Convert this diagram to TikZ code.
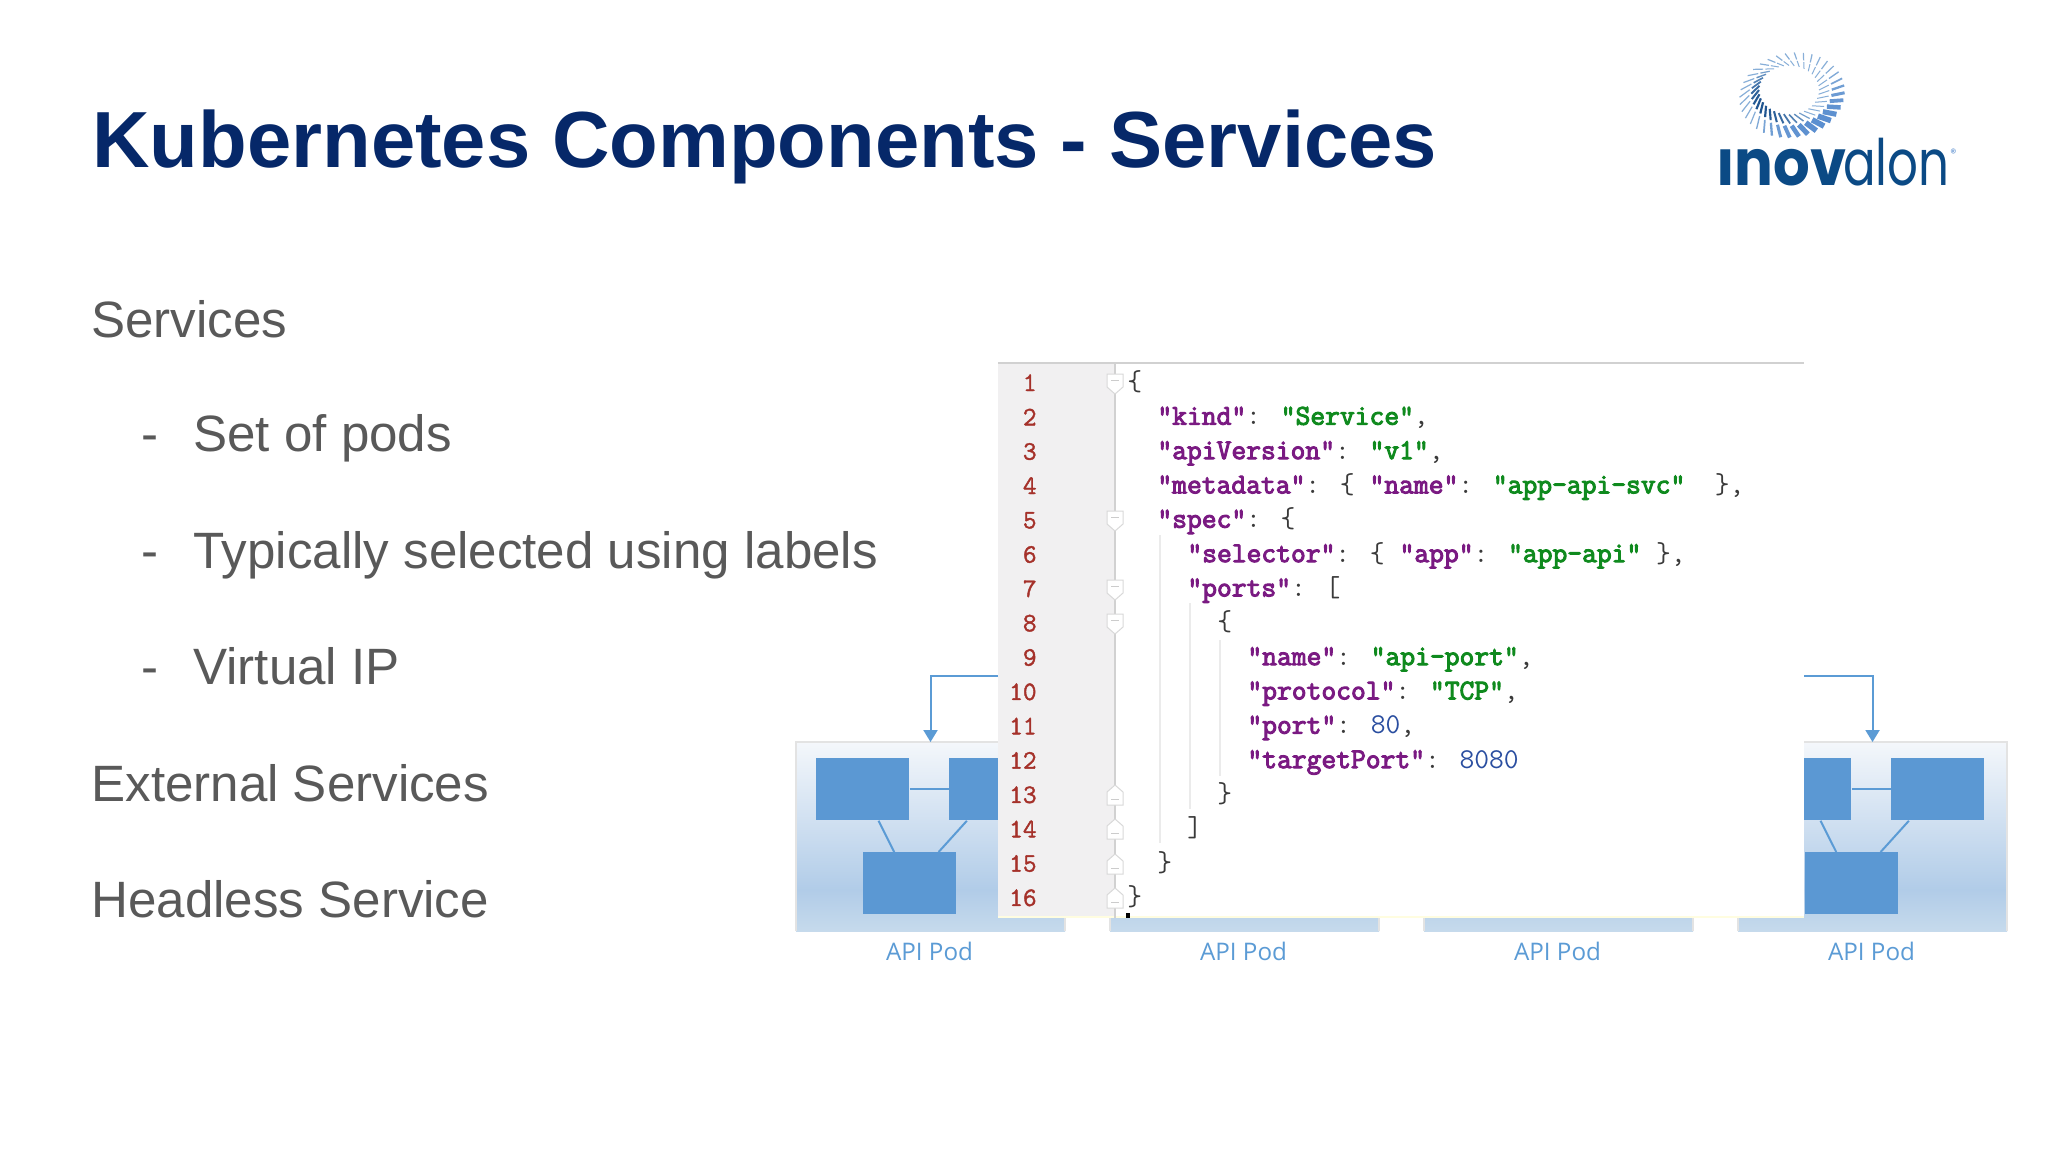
\documentclass[tikz,border=0pt]{standalone}
\usepackage{fontspec}
\usetikzlibrary{arrows.meta,calc}
\setmainfont{Liberation Sans}
\newfontfamily\podfont{Open Sans}
\newfontfamily\logofont{Poppins}
\newcommand{\codefont}{\ttfamily}
\definecolor{navy}{HTML}{062869}
\definecolor{bodygray}{HTML}{595959}
\definecolor{podblue}{HTML}{5B9BD5}
\definecolor{boxblue}{HTML}{5B98D3}
\definecolor{podtop}{HTML}{F4F7FB}
\definecolor{podmid}{HTML}{B1CCE8}
\definecolor{podbot}{HTML}{C6DAEC}
\definecolor{keyc}{HTML}{7A1A82}
\definecolor{strc}{HTML}{0F8A1E}
\definecolor{numc}{HTML}{2A4EA0}
\definecolor{punc}{HTML}{3A3A3A}
\definecolor{lnc}{HTML}{A5312A}
\definecolor{gutter}{HTML}{F1F0F1}
\definecolor{logoblue}{HTML}{0B4A85}
\definecolor{swirlmid}{HTML}{5B8FD0}
\definecolor{swirllight}{HTML}{88AFD8}
\definecolor{swirldark}{HTML}{1F5590}
\newcommand{\heavy}[2]{\special{pdf:code 2 Tr #1 w}#2\special{pdf:code 0 Tr 1 w}}
\newcommand{\kyc}[1]{\textcolor{keyc}{\heavy{0.5}{#1}}}
\newcommand{\strc}[1]{\textcolor{strc}{\heavy{0.5}{#1}}}
\newcommand{\numv}[1]{\textcolor{numc}{#1}}
\newcommand{\podbody}[2]{% x offset, name prefix
  \fill[top color=podtop,bottom color=podmid] (#1,742) rectangle (#1+269,890);
  \fill[top color=podmid,bottom color=podbot] (#1,890) rectangle (#1+269,931);
  \draw[podedge] (#1,931) -- (#1,742) -- (#1+269,742) -- (#1+269,931);
  \coordinate (#2top) at (#1+134.5,742);
  \node[podlabel] (#2label) at (#1+133.5,951) {API Pod};
}
\newcommand{\foldd}[1]{\draw[foldmark] (1107,#1-10) -- (1123,#1-10) -- (1123,#1+3) -- (1115,#1+10) -- (1107,#1+3) -- cycle;
  \draw[foldminus] (1111,#1-4) -- (1119,#1-4);}
\newcommand{\foldu}[1]{\draw[foldmark] (1107,#1+10) -- (1123,#1+10) -- (1123,#1-3) -- (1115,#1-10) -- (1107,#1-3) -- cycle;
  \draw[foldminus] (1111,#1+4) -- (1119,#1+4);}
\tikzset{
  x=0.5pt,y=-0.5pt,
  titletext/.style={anchor=base west,inner sep=0,text=navy,font=\fontsize{39.8}{44}\selectfont\bfseries},
  bodytext/.style={anchor=base west,inner sep=0,text=bodygray,font=\fontsize{25.55}{30}\selectfont},
  podlabel/.style={inner sep=0,text=podblue,font=\podfont\fontsize{12.1}{15}\selectfont},
  podedge/.style={draw=black!11,line width=0.9pt},
  podbox/.style={fill=boxblue,draw=none,inner sep=0,minimum width=46.5pt,minimum height=31pt,anchor=north west},
  podlink/.style={draw=podblue,line width=1pt},
  callarrow/.style={draw=podblue,line width=1pt,-{Triangle[length=6pt,width=7pt]}},
  codeline/.style={anchor=base west,inner sep=0,yshift=0.3pt,text=punc,font=\codefont\fontsize{14.37}{16}\selectfont},
  lineno/.style={anchor=base east,inner sep=0,text=lnc,font=\codefont\fontsize{13.3}{15}\selectfont},
  foldmark/.style={draw=black!15,fill=white,line width=0.5pt},
  foldminus/.style={draw=black!20,line width=0.5pt},
  guide/.style={draw=black!8,line width=0.6pt},
}
\begin{document}
\begin{tikzpicture}
\useasboundingbox (0,0) rectangle (2048,1152);
\fill[white] (0,0) rectangle (2048,1152);

% title and bullets
\node[titletext] (title) at (92,167) {Kubernetes Components - Services};
\node[bodytext] (b1) at (91,337) {Services};
\node[bodytext] (d2) at (141,451) {-};
\node[bodytext] (b2) at (193,451) {Set of pods};
\node[bodytext] (d3) at (141,568) {-};
\node[bodytext] (b3) at (193,568) {Typically selected using labels};
\node[bodytext] (d4) at (141,684) {-};
\node[bodytext] (b4) at (193,684) {Virtual IP};
\node[bodytext] (b5) at (91,801) {External Services};
\node[bodytext] (b6) at (91,917) {Headless Service};

% logo swirl
\foreach \t in {0,10,...,350}{
  \pgfmathsetmacro{\ox}{1792+53*cos(\t-8)*cos(-12)-42*sin(\t-8)*sin(-12)}
  \pgfmathsetmacro{\oy}{95+53*cos(\t-8)*sin(-12)+42*sin(\t-8)*cos(-12)}
  \pgfmathsetmacro{\nx}{1789+30*cos(\t)}
  \pgfmathsetmacro{\ny}{90+24.5*sin(\t)}
  \pgfmathsetmacro{\ax}{\nx+0.42*(\ox-\nx)}
  \pgfmathsetmacro{\ay}{\ny+0.42*(\oy-\ny)}
  \pgfmathsetmacro{\bx}{\nx+0.52*(\ox-\nx)}
  \pgfmathsetmacro{\by}{\ny+0.52*(\oy-\ny)}
  \pgfmathsetmacro{\wgt}{max(0,cos(\t-70))}
  \pgfmathsetmacro{\wout}{0.6+2.2*\wgt*\wgt}
  \pgfmathsetmacro{\pct}{100*\wgt}
  \pgfmathsetmacro{\inwgt}{max(0,cos(\t-150))}
  \pgfmathsetmacro{\win}{0.5+0.6*\inwgt}
  \pgfmathsetmacro{\inpct}{100*\inwgt}
  \draw[line width=\wout pt,color=swirlmid!\pct!swirllight] (\bx,\by) -- (\ox,\oy);
  \draw[line width=\win pt,color=swirldark!\inpct!swirllight] (\nx,\ny) -- (\ax,\ay);
}
\node[anchor=base west,inner sep=0,text=logoblue,font=\logofont\bfseries\fontsize{32}{36}\selectfont] (logoa) at (1716,185) {\scalebox{0.9}[1]{ınov}};
\node[anchor=base east,inner sep=0,text=logoblue,font=\logofont\fontsize{32}{36}\selectfont] (logob) at (1950,185) {\scalebox{0.755}[1]{alon}};
\node[anchor=base west,inner sep=0,text=swirlmid,font=\logofont\fontsize{6}{7}\selectfont] (logoc) at (1950,157) {®};

% pods
\podbody{796}{pa}
\podbody{1110}{pb}
\podbody{1424}{pc}
\podbody{1738}{pd}
\foreach \n/\ox in {a/796,d/1738}{
  \node[podbox] (\n1) at (\ox+20,758) {};
  \node[podbox] (\n2) at (\ox+153,758) {};
  \node[podbox] (\n3) at (\ox+67,852) {};
  \draw[podlink] (\n1.east) -- (\n2.west);
  \draw[podlink] ($(\n1.south west)!0.667!(\n1.south east)$) -- ($(\n3.north west)!0.333!(\n3.north east)$);
  \draw[podlink] ($(\n2.south west)!0.19!(\n2.south east)$) -- ($(\n3.north west)!0.806!(\n3.north east)$);
}

% code panel
\node[fill=white,draw=none,inner sep=0,minimum width=403pt,minimum height=277.5pt,anchor=north west] (panel) at (998,363) {};
\fill[gutter] (998,363) rectangle (1115,916);
\fill[yellow!12] (998,916) rectangle (1804,918);
\draw[draw=black!18,line width=0.8pt] (998,363) -- (1804,363);
\draw[draw=black!18,line width=0.6pt] (1115,363) -- (1115,918);
\draw[guide] (1160,535) -- (1160,843);
\draw[guide] (1190,603) -- (1190,809);
\draw[guide] (1220,640) -- (1220,776);
\foreach \y in {384,521,590,624}{\foldd{\y}}
\foreach \y in {795,829,864,898}{\foldu{\y}}
\foreach \i in {1,...,16}{
  \node[lineno] (ln\i) at (1037,391+34.33*\i-34.33) {\heavy{0.2}{\i}};
}
\node[codeline] (c1) at (1127,391) {\{};
\node[codeline] (c2) at (1157,425.3) {\kyc{"kind"}: \strc{"Service"},};
\node[codeline] (c3) at (1157,459.7) {\kyc{"apiVersion"}: \strc{"v1"},};
\node[codeline] (c4) at (1157,494) {\kyc{"metadata"}: \{ \kyc{"name"}: \strc{"app-api-svc"}~~\},};
\node[codeline] (c5) at (1157,528.3) {\kyc{"spec"}: \{};
\node[codeline] (c6) at (1187,562.7) {\kyc{"selector"}: \{ \kyc{"app"}: \strc{"app-api"} \},};
\node[codeline] (c7) at (1187,597) {\kyc{"ports"}: [};
\node[codeline] (c8) at (1217,631.3) {\{};
\node[codeline] (c9) at (1247,665.7) {\kyc{"name"}: \strc{"api-port"},};
\node[codeline] (c10) at (1247,700) {\kyc{"protocol"}: \strc{"TCP"},};
\node[codeline] (c11) at (1247,734.3) {\kyc{"port"}: \numv{80},};
\node[codeline] (c12) at (1247,768.7) {\kyc{"targetPort"}: \numv{8080}};
\node[codeline] (c13) at (1217,803) {\}};
\node[codeline] (c14) at (1187,837.3) {]};
\node[codeline] (c15) at (1157,871.7) {\}};
\node[codeline] (c16) at (1127,906) {\}};
\fill[black] (1126,913) rectangle (1130,918);

% call arrows
\coordinate (pl) at (998,676);
\coordinate (pr) at (1804,676);
\draw[callarrow] (pl) -| (patop);
\draw[callarrow] (pr) -| (pdtop);
\end{tikzpicture}
\end{document}
